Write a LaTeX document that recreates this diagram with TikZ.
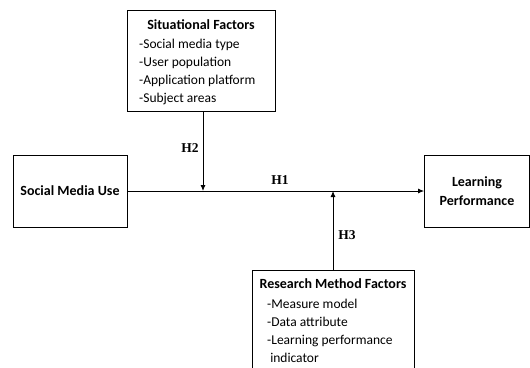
\documentclass[tikz,border=0pt]{standalone}
\usepackage{fontspec}
\setmainfont{Carlito}
\newfontfamily\hfont{Liberation Serif}
\usetikzlibrary{arrows.meta, positioning}
\tikzset{
  box/.style={draw, line width=0.8pt, inner sep=0pt},
  hlab/.style={font=\hfont\bfseries\fontsize{13.5}{15}\selectfont},
  items/.style={align=left, inner sep=0pt, font=\fontsize{13.5}{18}\selectfont},
  link/.style={line width=0.9pt, -{Latex[length=6pt, width=5pt]}}
}

\begin{document}
\begin{tikzpicture}[x=1pt, y=-1pt, font=\fontsize{14}{16}\selectfont]
    \useasboundingbox (0,0) rectangle (530,367);
    % moderator on top
    \node[box, minimum width=148pt, minimum height=101pt] (sit) at (201,60.5) {};
    \node (sittitle) at (201,25) {\textbf{Situational Factors}};
    \node[items, anchor=north west] (sitlist) at (139,39)
        {-Social media type\\-User population\\-Application platform\\-Subject areas};
    % main path
    \node[box, minimum width=114pt, minimum height=72pt] (smu) at (70,191)
        {\textbf{Social Media Use}};
    \node[box, minimum width=105pt, minimum height=72pt, align=center] (lp) at (477,191)
        {\textbf{Learning}\\[3pt]\textbf{Performance}};
    % moderator below (runs off the page)
    \node[box, minimum width=162pt, minimum height=110pt, anchor=north] (res) at (333,270) {};
    \node (restitle) at (333,284) {\textbf{Research Method Factors}};
    \node[items, anchor=north west] (reslist) at (267,299)
        {-Measure model\\-Data attribute\\-Learning performance\\\ indicator};
    % junctions on H1
    \coordinate (j2) at (203,191);
    \coordinate (j3) at (333,191);
    \draw[link] (smu) -- (lp);
    \draw[link] (sit.south -| j2) -- (j2);
    \draw[link] (res.north -| j3) -- (j3);
    % hypotheses
    \node[hlab] (h1) at (280,180) {H1};
    \node[hlab] (h2) at (190,148) {H2};
    \node[hlab] (h3) at (347,235) {H3};
\end{tikzpicture}
\end{document}
